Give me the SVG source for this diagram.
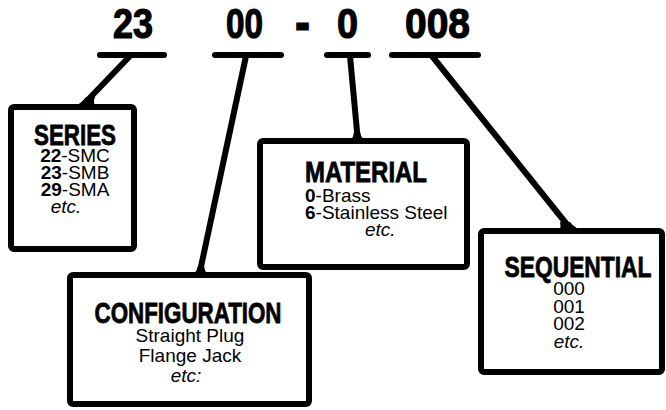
<svg xmlns="http://www.w3.org/2000/svg" width="666" height="410" viewBox="0 0 666 410">
<style>
.hdr{font-family:"Liberation Sans",Arial,sans-serif;font-weight:bold;font-size:43px;fill:#000;stroke:#000;stroke-width:1.2}
.ttl{font-family:"Liberation Sans",Arial,sans-serif;font-weight:bold;font-size:30px;fill:#000;stroke:#000;stroke-width:0.8;text-anchor:middle}
.bd{font-family:"Liberation Sans",Arial,sans-serif;font-size:19px;fill:#000}
.c{text-anchor:middle}
.b{font-weight:bold}
.i{font-style:italic}
.box{fill:#fff;stroke:#000;stroke-width:6;stroke-linejoin:round}
.bar{stroke:#000;stroke-width:6;stroke-linecap:round}
.ld{stroke:#000;stroke-width:6;fill:none;stroke-linecap:butt}
.fl{fill:#000;stroke:none}
</style>
<rect width="666" height="410" fill="#fff"/>
<g id="code">
<text class="hdr" x="113" y="38" textLength="40" lengthAdjust="spacingAndGlyphs">23</text>
<text class="hdr" x="226" y="38" textLength="37" lengthAdjust="spacingAndGlyphs">00</text>
<text class="hdr" x="296" y="38" textLength="13" lengthAdjust="spacingAndGlyphs" style="stroke-width:3">-</text>
<text class="hdr" x="337" y="38" textLength="21" lengthAdjust="spacingAndGlyphs">0</text>
<text class="hdr" x="405" y="38" textLength="65" lengthAdjust="spacingAndGlyphs">008</text>
</g>
<g id="connectors">
<line class="bar" x1="100" y1="55" x2="164" y2="55"/>
<line class="bar" x1="215" y1="55" x2="281" y2="55"/>
<line class="bar" x1="327" y1="55" x2="368" y2="55"/>
<line class="bar" x1="392" y1="55" x2="478" y2="55"/>
<line class="ld" x1="130" y1="56" x2="82" y2="106"/>
<line class="ld" x1="246" y1="56" x2="199" y2="276"/>
<line class="ld" x1="350" y1="56" x2="358" y2="142"/>
<line class="ld" x1="432" y1="56" x2="573" y2="232"/>
<path class="fl" d="M72,107 Q80,105 86,97 L95,97 Q92,104 97,107 Z"/>
<path class="fl" d="M188,277 Q196,275 198,266 L204,266 Q205,274 212,277 Z"/>
<path class="fl" d="M346,143 Q353,141 354,132 L360,132 Q361,140 370,143 Z"/>
<path class="fl" d="M556,233 Q562,230 560,222 L570,222 Q575,229 588,233 Z"/>
</g>
<g id="series">
<rect class="box" x="11" y="107" width="123" height="142" rx="3"/>
<text class="ttl" x="75" y="145" textLength="82" lengthAdjust="spacingAndGlyphs">SERIES</text>
<text class="bd c" x="75" y="162"><tspan class="b">22</tspan>-SMC</text>
<text class="bd c" x="75" y="179"><tspan class="b">23</tspan>-SMB</text>
<text class="bd c" x="75" y="196"><tspan class="b">29</tspan>-SMA</text>
<text class="bd c i" x="66" y="213">etc.</text>
</g>
<g id="material">
<rect class="box" x="260" y="141" width="207" height="126" rx="3"/>
<text class="ttl" x="366" y="182" textLength="122" lengthAdjust="spacingAndGlyphs">MATERIAL</text>
<text class="bd" x="305" y="202"><tspan class="b">0</tspan>-Brass</text>
<text class="bd" x="305" y="219"><tspan class="b">6</tspan>-Stainless Steel</text>
<text class="bd i" x="365" y="236">etc.</text>
</g>
<g id="configuration">
<rect class="box" x="70" y="275" width="239" height="129" rx="3"/>
<text class="ttl" x="188" y="323" textLength="187" lengthAdjust="spacingAndGlyphs">CONFIGURATION</text>
<text class="bd c" x="190" y="342">Straight Plug</text>
<text class="bd c" x="190" y="362">Flange Jack</text>
<text class="bd c i" x="186" y="382">etc:</text>
</g>
<g id="sequential">
<rect class="box" x="481" y="231" width="181" height="141" rx="3"/>
<text class="ttl" x="578" y="277" textLength="147" lengthAdjust="spacingAndGlyphs">SEQUENTIAL</text>
<text class="bd c" x="569" y="295">000</text>
<text class="bd c" x="569" y="313">001</text>
<text class="bd c" x="569" y="330">002</text>
<text class="bd c i" x="569" y="348">etc.</text>
</g>
</svg>
